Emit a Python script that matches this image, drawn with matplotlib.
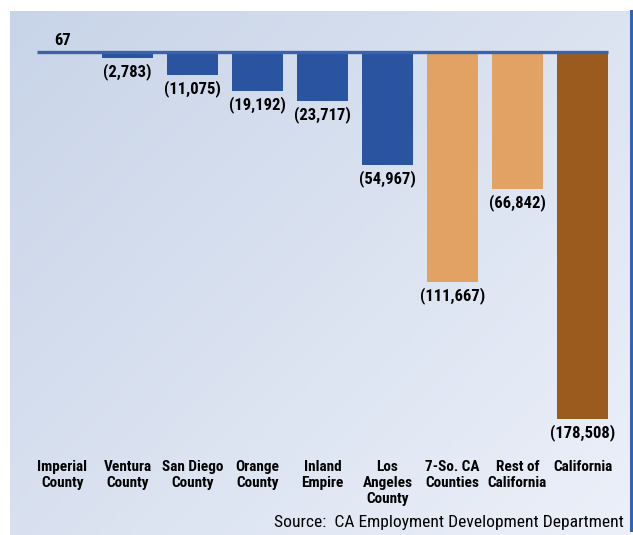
import numpy as np
import matplotlib
matplotlib.use("Agg")
import matplotlib.pyplot as plt
import matplotlib.transforms as mtrans
from matplotlib import font_manager as fm

categories = ["Imperial\nCounty", "Ventura\nCounty", "San Diego\nCounty", "Orange\nCounty",
              "Inland\nEmpire", "Los\nAngeles\nCounty", "7-So. CA\nCounties",
              "Rest of\nCalifornia", "California"]
values = [67, -2783, -11075, -19192, -23717, -54967, -111667, -66842, -178508]
value_labels = ["67", "(2,783)", "(11,075)", "(19,192)", "(23,717)", "(54,967)",
                "(111,667)", "(66,842)", "(178,508)"]
bar_colors = ["#2a53a0"] * 6 + ["#e2a263", "#e2a263", "#9b5a1e"]
source_text = "Source:  CA Employment Development Department"

names = {f.name for f in fm.fontManager.ttflist}
narrow = ["Roboto Condensed", "PT Sans Narrow", "Archivo Narrow", "Liberation Sans", "DejaVu Sans"]
narrow = [f for f in narrow if f in names] or ["DejaVu Sans"]

W, H = 633, 535
fig = plt.figure(figsize=(W / 100, H / 100), dpi=100)
fig.patch.set_facecolor("white")

# gradient panel
bg = fig.add_axes([10 / W, 0, (631 - 10) / W, (H - 11) / H])
bg.set_axis_off()
yy, xx = np.mgrid[0:1:200j, 0:1:200j]
t = np.clip(0.55 * xx + 0.45 * yy, 0, 1)
c0 = np.array([200, 212, 232]) / 255.0
c1 = np.array([236, 240, 249]) / 255.0
img = c0[None, None, :] * (1 - t[..., None]) + c1[None, None, :] * t[..., None]
bg.imshow(img, aspect="auto", extent=[0, 1, 0, 1], origin="upper")
bg.set_xlim(0, 1)
bg.set_ylim(0, 1)

# right border line
fig.add_artist(plt.Line2D([631 / W, 631 / W], [1 - 530 / H, 1 - 11 / H],
                          color="#3563b3", lw=2.2, transform=fig.transFigure))

# main axes (pixel layout)
ax_left, ax_right = 30, 615
ax_top, ax_bot = 30, 440
ax = fig.add_axes([ax_left / W, 1 - ax_bot / H, (ax_right - ax_left) / W, (ax_bot - ax_top) / H])
ax.patch.set_alpha(0)
for s in ax.spines.values():
    s.set_visible(False)
ax.set_xticks([])
ax.set_yticks([])

n = len(values)
x = np.arange(n)
width = 51 / 65
ax.bar(x, values, width=width, color=bar_colors, zorder=2)
ax.set_xlim(-0.5, n - 0.5)
px = 178508 / (419 - 52)
ax.set_ylim(-(ax_bot - 52) * px, (52 - ax_top) * px)
ax.hlines(0, -width / 2, n - 1 + width / 2, color="#3a62ad", lw=2.4, zorder=3)

for xi, v, lab in zip(x, values, value_labels):
    if v >= 0:
        ax.annotate(lab, (xi, v), xytext=(0, 4), textcoords="offset pixels",
                    ha="center", va="bottom", fontsize=12, fontweight="bold",
                    family=narrow, color="black")
    else:
        ax.annotate(lab, (xi, v), xytext=(0, -5), textcoords="offset pixels",
                    ha="center", va="top", fontsize=12, fontweight="bold",
                    family=narrow, color="black")

tr = mtrans.blended_transform_factory(ax.transData, fig.transFigure)
for xi, c in zip(x, categories):
    ax.text(xi, 1 - 460 / H, c, transform=tr, ha="center", va="top",
            fontsize=11, fontweight="bold", family=narrow, linespacing=1.17,
            color="black")

fig.text(624 / W, 1 - 523 / H, source_text, ha="right", va="center",
         fontsize=12.6, family=narrow, color="black")

fig.savefig("out.png", dpi=100, facecolor="white")
